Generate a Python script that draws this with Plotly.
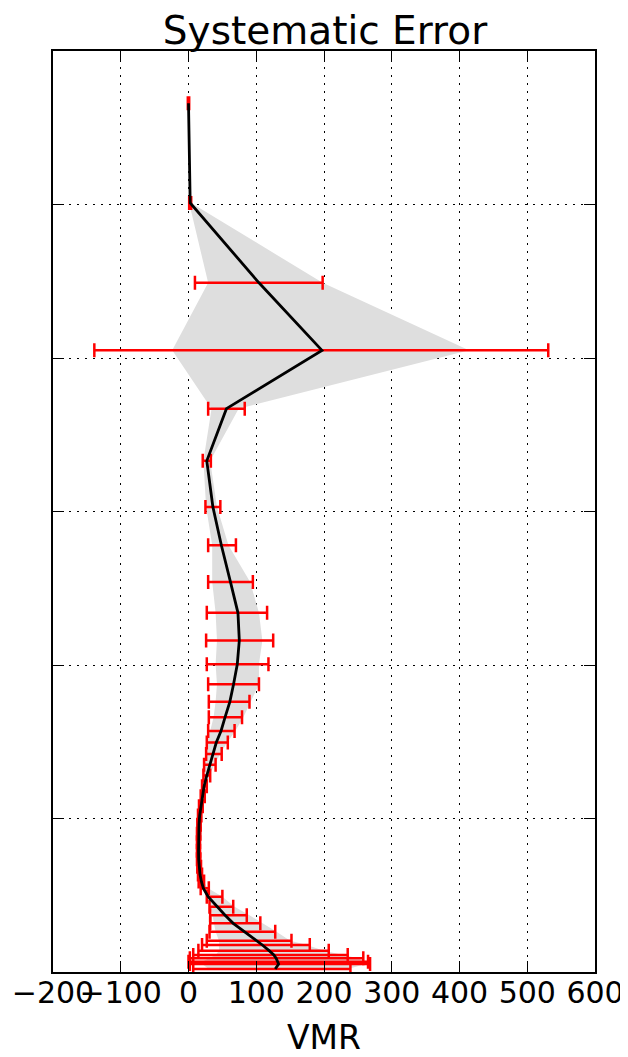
import plotly.graph_objects as go

# altitude levels (y) and values
levels = [56.6, 50.1, 44.9, 40.5, 36.7, 33.3, 30.3, 27.8, 25.4, 23.4, 21.6, 20.05,
          18.75, 17.6, 16.6, 15.7, 14.95, 14.2, 13.5, 12.8, 12.1, 11.45, 10.8, 10.2,
          9.6, 9.0, 8.45, 7.9, 7.35, 6.85, 6.35, 5.9, 5.45, 4.9, 4.25, 3.7, 3.17,
          2.62, 2.04, 1.76, 1.39, 1.11, 0.89, 0.67, 0.52, 0.2]

mean_vmr = [0, 2.5, 104, 197, 56, 27, 36, 48.5, 62, 73, 75, 72,
            66.5, 61, 54, 48, 41, 36, 31, 27, 23, 21, 18, 16.5,
            15.5, 15, 14.8, 14.8, 15, 15.5, 17, 19, 22, 29, 42, 54, 66,
            83, 101, 109, 119, 126, 129.5, 132, 133, 128]

err_low = [-1, 1, 9.5, -139, 29, 21, 25, 29, 29, 27, 26, 27,
           29, 30, 30, 29, 27, 26, 23, 22, 20, 18, 15.5, 14,
           13, 12.5, 12.5, 12.5, 12.5, 13, 14, 15, 18, 27, 31, 32, 32,
           31, 27, 20, 14.6, 7, 2, 0, 2, 7]

err_high = [1, 4, 198, 531, 83, 33, 47, 70, 95, 116, 125, 118,
            104, 90, 79, 68, 58, 49, 40, 32, 27, 24, 21, 19,
            18, 17.5, 17, 17, 17.5, 18.5, 20, 23, 30, 50, 66, 86, 106,
            128, 152, 179, 207, 235, 258, 265, 268, 239]

band_low = [0, 1, 29, -24, 34, 22, 26, 35, 35, 40, 42, 40,
            42, 40, 37, 32, 27, 25, 23, 21, 19, 18, 16, 15,
            14, 13.5, 13.5, 13.5, 13.5, 14, 15, 16.5, 19, 28, 33, 36, 38,
            40, 45, 45, 45, 40, 30, 20, 20, 30]

band_high = [0, 4, 198, 414, 74, 32, 42, 59, 91, 104, 109, 104,
             104, 92, 81, 69, 57, 47, 38, 31, 26, 23, 20, 18,
             17, 16.5, 16, 16, 16.5, 17.5, 19, 22, 29, 50, 68, 90, 110,
             130, 150, 175, 200, 230, 250, 260, 262, 235]

x_ticks = [-200, -100, 0, 100, 200, 300, 400, 500, 600]
x_tick_labels = ["\u2212200", "\u2212100", "0", "100", "200", "300", "400", "500", "600"]
y_ticks = [0, 10, 20, 30, 40, 50, 60]

fig = go.Figure()

# grey band
fig.add_trace(go.Scatter(
    x=band_high + band_low[::-1],
    y=levels + levels[::-1],
    fill="toself", fillcolor="rgb(222,222,222)",
    line=dict(width=0), mode="lines", hoverinfo="skip", showlegend=False))

# red error bars
fig.add_trace(go.Scatter(
    x=mean_vmr, y=levels, mode="markers",
    marker=dict(size=1, color="rgba(0,0,0,0)"),
    error_x=dict(type="data", symmetric=False,
                 array=[h - m for h, m in zip(err_high, mean_vmr)],
                 arrayminus=[m - l for m, l in zip(mean_vmr, err_low)],
                 color="#ff0000", thickness=2.5, width=7),
    showlegend=False))

# mean profile
fig.add_trace(go.Scatter(
    x=mean_vmr, y=levels, mode="lines",
    line=dict(color="black", width=2.8), showlegend=False))

axis_common = dict(
    showline=True, linecolor="black", linewidth=2, mirror="allticks",
    ticks="inside", ticklen=11, tickwidth=1, tickcolor="black",
    showgrid=True, gridcolor="black", gridwidth=1, griddash="2px,6px",
    zeroline=False, automargin=False,
)

# page body adds an 8px offset
W, H = 620, 1049
fig.update_layout(
    width=W, height=H,
    margin=dict(l=45, r=33, t=43, b=85),
    paper_bgcolor="white", plot_bgcolor="white",
    font=dict(family="DejaVu Sans", color="black"),
    title=dict(text="Systematic Error", x=317 / W, xanchor="center",
               y=1 - 22 / H, yanchor="middle",
               font=dict(size=39, family="DejaVu Sans", color="black"),
               automargin=False),
    xaxis=dict(range=[-200, 600], tickvals=x_ticks, ticktext=x_tick_labels,
               tickangle=0, tickfont=dict(size=30), ticklabeloverflow="allow",
               ticklabelstandoff=-7,
               title=dict(text="VMR", font=dict(size=33), standoff=31),
               **axis_common),
    yaxis=dict(range=[0, 60], tickvals=y_ticks, showticklabels=False,
               **axis_common),
)

fig.write_html("out.html")
